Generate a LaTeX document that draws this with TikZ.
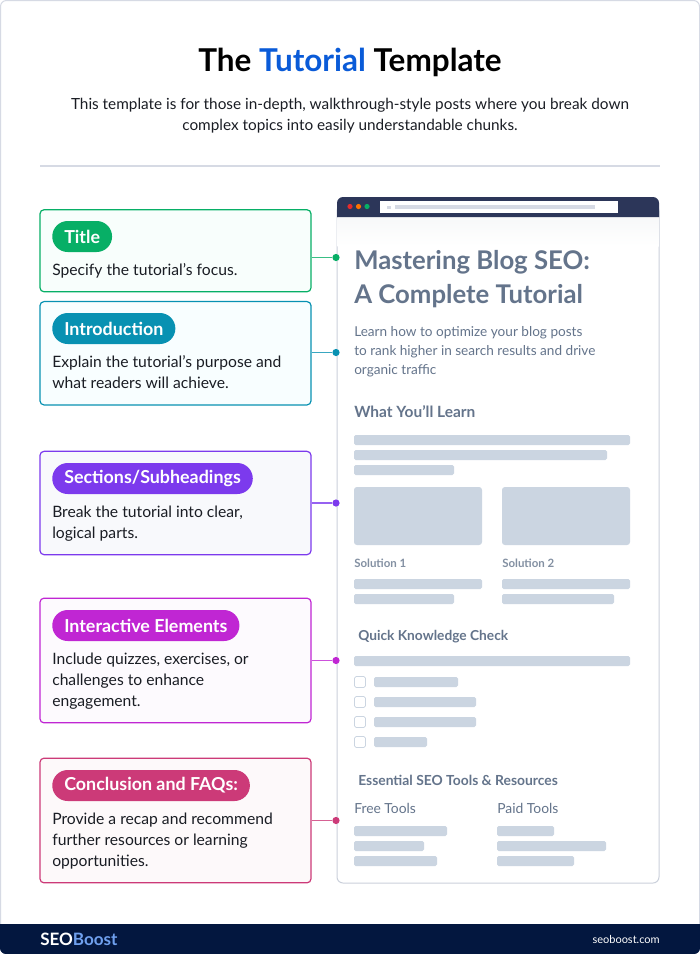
\documentclass[tikz,border=0pt]{standalone}
\usepackage{fontspec}
\setmainfont{Lato}
\definecolor{titleblue}{HTML}{0A5BD8}
\definecolor{inkdark}{HTML}{1A1D24}
\definecolor{rulegray}{HTML}{D6DAE4}
\definecolor{bargray}{HTML}{CBD5E1}
\definecolor{slatetext}{HTML}{64748B}
\definecolor{navyhead}{HTML}{2C3659}
\definecolor{navyfoot}{HTML}{03173F}
\definecolor{boostblue}{HTML}{6FA0EE}
\definecolor{cgreen}{HTML}{07AF66}
\definecolor{cteal}{HTML}{0891B2}
\definecolor{cpurple}{HTML}{7C3AED}
\definecolor{cmagenta}{HTML}{C026D3}
\definecolor{cpink}{HTML}{CC3A78}
\definecolor{fgreen}{HTML}{F8FEFC}
\definecolor{fteal}{HTML}{F8FEFF}
\definecolor{fpurple}{HTML}{F8F9FC}
\definecolor{fmagenta}{HTML}{FDFAFE}
\definecolor{fpink}{HTML}{FDF9FA}
\tikzset{
  x=.75pt,y=-.75pt,
  notebox/.style 2 args={draw=#1,fill=#2,line width=.9pt,rounded corners=3pt,minimum width=203.25pt,inner sep=0pt},
  pill/.style={fill=#1,text=white,rounded corners=11.6pt,minimum height=23.25pt,inner sep=0pt,inner xsep=9pt,anchor=west,font=\bfseries\fontsize{13.4}{15}\selectfont},
  notetext/.style={anchor=north west,inner sep=0pt,align=left,text=inkdark,font=\fontsize{11.75}{15.75}\selectfont},
  linkdot/.style={circle,fill=#1,inner sep=0pt,minimum size=5.4pt},
  link/.style={draw=#1!80,line width=1.1pt},
  heading/.style={anchor=west,inner sep=0pt,text=slatetext,font=\bfseries\fontsize{#1}{#1}\selectfont},
  bar/.style={fill=bargray,rounded corners=1.2pt},
  tickbox/.style={draw=bargray,fill=white,line width=.6pt,rounded corners=1.2pt}
}
\begin{document}
\begin{tikzpicture}
  \useasboundingbox (0,0) rectangle (700,954);
  \draw[rulegray,line width=.75pt,fill=white,rounded corners=4.5pt] (.5,.5) rectangle (699.5,953.5);
  \fill[navyfoot] (0,924) -- (700,924) [rounded corners=4.5pt] -- (700,954) -- (0,954) [sharp corners] -- cycle;

  % heading
  \node[inner sep=0pt,text=black,font=\bfseries\fontsize{23.6}{27}\selectfont] (maintitle) at (350,62.5) {The {\color{titleblue}Tutorial} Template};
  \node[inner sep=0pt,align=center,text=inkdark,font=\fontsize{11.5}{15.75}\selectfont] (subtitle) at (350,116) {This template is for those in-depth, walkthrough-style posts where you break down\\complex topics into easily understandable chunks.};
  \coordinate (ruleleft) at (40,166);
  \coordinate (ruleright) at (660,166);
  \draw[rulegray,line width=1.1pt] (ruleleft) -- (ruleright);

  % browser window
  \draw[rulegray!90!slatetext,line width=.75pt,fill=white,rounded corners=4.5pt] (337,205) rectangle (659,883);
  \shade[top color=slatetext!5,bottom color=white] (337.5,217) rectangle (658.5,246);
  \fill[navyhead] (337,217) [rounded corners=4.5pt] -- (337,197) -- (659,197) [sharp corners] -- (659,217) -- cycle;
  \fill[white] (380,200.5) rectangle (618,213);
  \fill[rulegray] (395,204.5) rectangle (595,209);
  \fill[rulegray] (387,205.5) rectangle (391,209);
  \fill[red!75!pink!90!black] (350,206.5) circle (2.6);
  \fill[orange!90!red] (358.5,206.5) circle (2.6);
  \fill[cgreen] (367,206.5) circle (2.6);

  % page content
  \node[heading=19.3] (posttitlea) at (354,262.5) {Mastering Blog SEO:};
  \node[heading=19.3] (posttitleb) at (354,296.5) {A Complete Tutorial};
  \node[anchor=north west,inner sep=0pt,align=left,text=slatetext,font=\fontsize{10.2}{14.25}\selectfont] (postintro) at (354,326.5) {Learn how to optimize your blog posts\\to rank higher in search results and drive\\organic traffic};
  \node[heading=11.6] (learn) at (354,412) {What You'll Learn};
  \fill[bar] (354,435) rectangle (630,445);
  \fill[bar] (354,450) rectangle (607,460);
  \fill[bar] (354,465) rectangle (454,475);
  \fill[bar,rounded corners=2.2pt] (354,487) rectangle (482,545);
  \fill[bar,rounded corners=2.2pt] (502,487) rectangle (630,545);
  \node[heading=8.6,text=slatetext!80] (solone) at (354,563) {Solution 1};
  \node[heading=8.6,text=slatetext!80] (soltwo) at (502,563) {Solution 2};
  \foreach \xa/\xb/\ya in {354/482/579,354/454/594,502/630/579,502/614/594}
    \fill[bar] (\xa,\ya) rectangle (\xb,\ya+10);
  \node[heading=10.3] (quick) at (358,636.5) {Quick Knowledge Check};
  \fill[bar] (354,656) rectangle (630,666);
  \foreach \xb/\ya in {458/677,476/697,476/717,427/737}{
    \draw[tickbox] (354.5,\ya-.5) rectangle (365.5,\ya+10.5);
    \fill[bar] (374,\ya) rectangle (\xb,\ya+10);
  }
  \node[heading=10.4] (tools) at (358,780.5) {Essential SEO Tools \& Resources};
  \node[anchor=west,inner sep=0pt,text=slatetext,font=\fontsize{10.4}{12}\selectfont] (freetools) at (354,808.5) {Free Tools};
  \node[anchor=west,inner sep=0pt,text=slatetext,font=\fontsize{10.4}{12}\selectfont] (paidtools) at (497,808.5) {Paid Tools};
  \foreach \xa/\xb/\ya in {354/447/826,354/424/841,354/437/856,497/554/826,497/606/841,497/574/856}
    \fill[bar] (\xa,\ya) rectangle (\xb,\ya+10);

  % note boxes
  \node[notebox={cgreen}{fgreen},minimum height=61.5pt] (titlebox) at (175.5,250.75) {};
  \node[notebox={cteal}{fteal},minimum height=77.5pt] (introbox) at (175.5,353.25) {};
  \node[notebox={cpurple}{fpurple},minimum height=77.5pt] (sectbox) at (175.5,503) {};
  \node[notebox={cmagenta}{fmagenta},minimum height=93.5pt] (interbox) at (175.5,660.5) {};
  \node[notebox={cpink}{fpink},minimum height=93.5pt] (conclbox) at (175.5,820.5) {};

  \node[pill=cgreen] (titlepill) at (52,236.5) {Title};
  \node[pill=cteal] (intropill) at (52,328.5) {Introduction};
  \node[pill=cpurple] (sectpill) at (52,478.5) {Sections/Subheadings};
  \node[pill=cmagenta] (interpill) at (52,625.5) {Interactive Elements};
  \node[pill=cpink] (conclpill) at (52,785.5) {Conclusion and FAQs:};

  \node[notetext] (titletext) at (52,263.5) {Specify the tutorial's focus.};
  \node[notetext] (introtext) at (52,355.5) {Explain the tutorial's purpose and\\what readers will achieve.};
  \node[notetext] (secttext) at (52,505.5) {Break the tutorial into clear,\\logical parts.};
  \node[notetext] (intertext) at (52,652.5) {Include quizzes, exercises, or\\challenges to enhance\\engagement.};
  \node[notetext] (concltext) at (52,812.5) {Provide a recap and recommend\\further resources or learning\\opportunities.};

  % connectors
  \node[linkdot=cgreen] (titledot) at (336,257.5) {};
  \node[linkdot=cteal] (introdot) at (336,352.5) {};
  \node[linkdot=cpurple] (sectdot) at (336,503) {};
  \node[linkdot=cmagenta] (interdot) at (336,660.5) {};
  \node[linkdot=cpink] (concldot) at (336,820.5) {};
  \path[link=cgreen] (titlebox.east |- titledot) -- (titledot);
  \path[link=cteal] (introbox.east |- introdot) -- (introdot);
  \path[link=cpurple] (sectbox.east) -- (sectdot);
  \path[link=cmagenta] (interbox.east) -- (interdot);
  \path[link=cpink] (conclbox.east) -- (concldot);

  % footer
  \node[anchor=west,inner sep=0pt,text=white,font=\bfseries\fontsize{12.8}{15}\selectfont] (logo) at (40,939.5) {SEO{\color{boostblue}Boost}};
  \node[anchor=east,inner sep=0pt,text=white,font=\fontsize{8.25}{10}\selectfont] (site) at (660,939.5) {seoboost.com};
\end{tikzpicture}
\end{document}
